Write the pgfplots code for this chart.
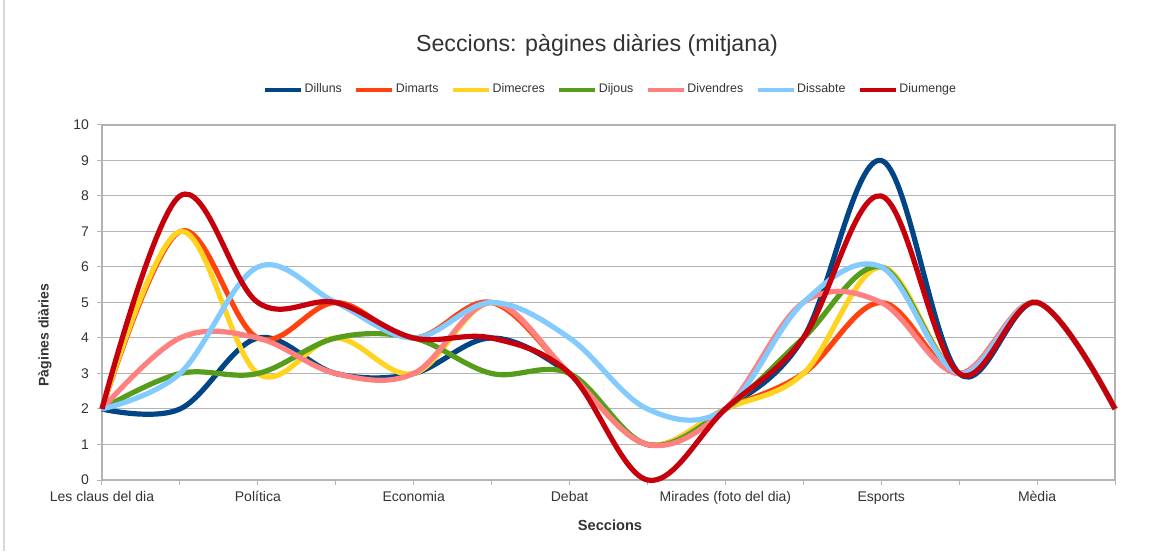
\documentclass[border=0pt]{standalone}
\usepackage{pgfplots}
\usepackage{pgfplotstable}
\pgfplotsset{compat=1.18}
\usepackage{fontspec}
\setmainfont{Liberation Sans}
\definecolor{cL}{HTML}{004586}
\definecolor{cM}{HTML}{FF420E}
\definecolor{cX}{HTML}{FFD320}
\definecolor{cJ}{HTML}{579D1C}
\definecolor{cV}{HTML}{FF8080}
\definecolor{cS}{HTML}{83CAFF}
\definecolor{cD}{HTML}{C5000B}
\definecolor{gridgray}{HTML}{B3B3B3}
\definecolor{txt}{HTML}{333333}
\pgfplotstableread{
x L M X J V S D
0 2 2 2 2 2 2 2
1 2 7 7 3 4 3 8
2 4 4 3 3 4 6 5
3 3 5 4 4 3 5 5
4 3 4 3 4 3 4 4
5 4 5 5 3 5 5 4
6 3 3 3 3 3 4 3
7 1 1 1 1 1 2 0
8 2 2 2 2 2 2 2
9 4 3 3 4 5 5 4
10 9 5 6 6 5 6 8
11 3 3 3 3 3 3 3
12 5 5 5 5 5 5 5
13 2 2 2 2 2 2 2
}\data
\begin{document}
\begin{tikzpicture}
\useasboundingbox (0,0) rectangle (582.5pt,275.5pt);
\draw[color=black!15, line width=0.6pt] (2pt,0pt) -- (2pt,275.5pt);
\begin{axis}[
  at={(51pt,35.5pt)}, anchor=south west, scale only axis,
  width=506.5pt, height=177.5pt,
  xmin=0, xmax=13, ymin=0, ymax=10,
  clip=false,
  xtick={0,...,13},
  xticklabels={Les claus del dia,,Política,,Economia,,Debat,,Mirades (foto del dia),,Esports,,Mèdia,},
  ytick={0,...,10},
  /pgf/number format/assume math mode=true,
  ymajorgrids,
  grid style={color=gridgray, line width=0.5pt},
  axis line style={color=gridgray, line width=0.6pt},
  tick style={color=gridgray, line width=0.5pt},
  tick align=outside, major tick length=2.5pt,
  tick pos=left,
  tick label style={font=\fontsize{7}{8}\selectfont, text=txt},
  xticklabel style={yshift=0.3pt},
  yticklabel style={xshift=-0.5pt},
  legend columns=7,
  legend style={at={(0.5015,1.0986)}, anchor=center, draw=none, fill=none,
    font=\fontsize{6.2}{7}\selectfont, text=txt,
    /tikz/every even column/.append style={column sep=5.5pt},
    /tikz/every odd column/.append style={column sep=0pt},
    nodes={inner xsep=0.6pt},
    inner sep=0pt},
  legend image code/.code={\draw[line width=2.3pt,#1] (0pt,0pt) -- (18pt,0pt);},
  every axis plot/.append style={line width=2.6pt, smooth, tension=0.6, no markers},
]
\addplot[cL] table[x=x,y=L] {\data}; \addlegendentry{Dilluns}
\addplot[cM] table[x=x,y=M] {\data}; \addlegendentry{Dimarts}
\addplot[cX] table[x=x,y=X] {\data}; \addlegendentry{Dimecres}
\addplot[cJ] table[x=x,y=J] {\data}; \addlegendentry{Dijous}
\addplot[cV] table[x=x,y=V] {\data}; \addlegendentry{Divendres}
\addplot[cS] table[x=x,y=S] {\data}; \addlegendentry{Dissabte}
\addplot[cD] table[x=x,y=D] {\data}; \addlegendentry{Diumenge}
\end{axis}
\node[text=txt, font=\fontsize{11.6}{13}\selectfont] at (298.5pt,253pt) {Seccions: pàgines diàries (mitjana)};
\node[text=txt, font=\bfseries\fontsize{7.3}{8}\selectfont] at (305pt,13pt) {Seccions};
\node[text=txt, font=\bfseries\fontsize{7}{8}\selectfont, rotate=90] at (22.5pt,108pt) {Pàgines diàries};
\end{tikzpicture}
\end{document}
